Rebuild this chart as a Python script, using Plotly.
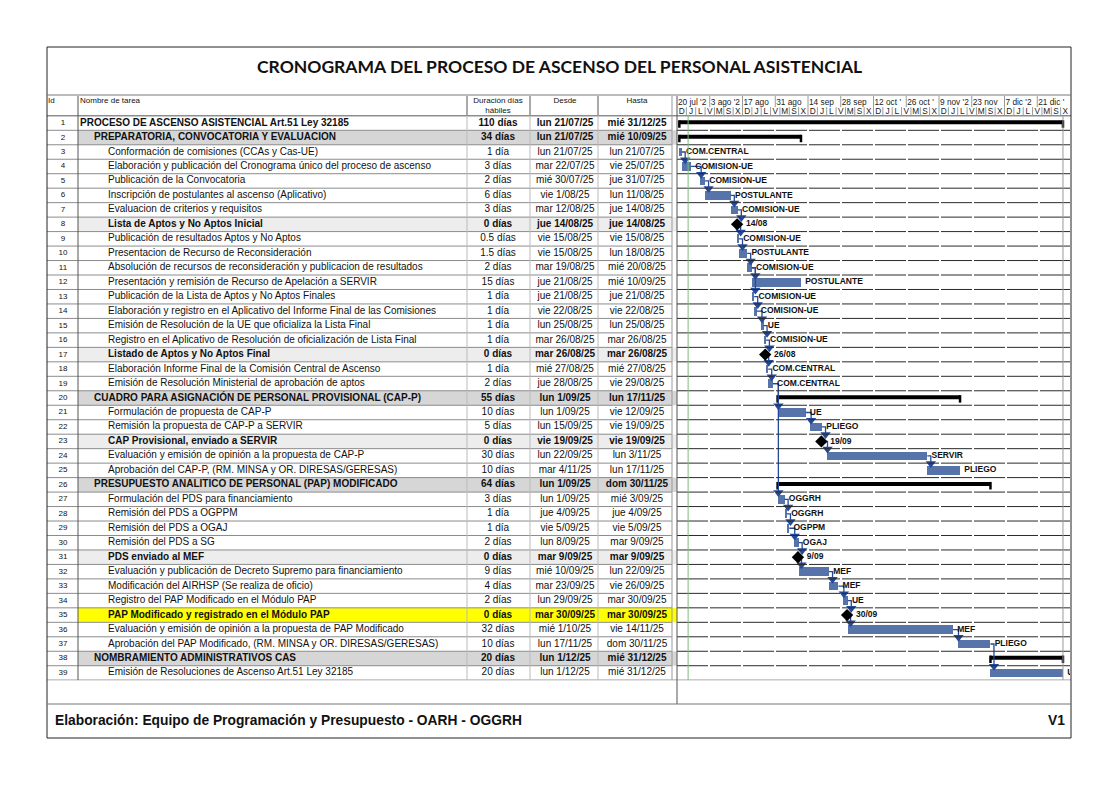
import plotly.graph_objects as go
import pandas as pd

# ---------------- DATA ----------------
TITLE = "CRONOGRAMA DEL PROCESO DE ASCENSO DEL PERSONAL ASISTENCIAL"
FOOTER = "Elaboración: Equipo de Programación y Presupuesto - OARH - OGGRH"
VERSION = "V1"

HEADER_ID = "Id"
HEADER_NAME = "Nombre de tarea"
HEADER_DUR = ["Duración días", "hábiles"]
HEADER_DESDE = "Desde"
HEADER_HASTA = "Hasta"

ROW_IDS = list(range(1, 40))

TASK_NAMES = [
    "PROCESO DE ASCENSO ASISTENCIAL Art.51 Ley 32185",
    "PREPARATORIA, CONVOCATORIA Y EVALUACION",
    "Conformación de comisiones (CCAs y Cas-UE)",
    "Elaboración y publicación del Cronograma único del proceso de ascenso",
    "Publicación de la Convocatoria",
    "Inscripción de postulantes al ascenso (Aplicativo)",
    "Evaluacion de criterios y requisitos",
    "Lista de Aptos y No Aptos Inicial",
    "Publicación de resultados Aptos y No Aptos",
    "Presentacion de Recurso de Reconsideración",
    "Absolución de recursos de reconsideración y publicacion de resultados",
    "Presentación y remisión de Recurso de Apelación a SERVIR",
    "Publicación de la Lista de Aptos y No Aptos Finales",
    "Elaboración y registro en el Aplicativo del Informe Final de las Comisiones",
    "Emisión de Resolución de la UE que oficializa la Lista Final",
    "Registro en el Aplicativo de Resolución de oficialización de Lista Final",
    "Listado de Aptos y No Aptos Final",
    "Elaboración Informe Final de la Comisión Central de Ascenso",
    "Emisión de Resolución Ministerial de aprobación de aptos",
    "CUADRO PARA ASIGNACIÓN DE PERSONAL PROVISIONAL (CAP-P)",
    "Formulación de propuesta de CAP-P",
    "Remisión la propuesta de CAP-P a SERVIR",
    "CAP Provisional, enviado a SERVIR",
    "Evaluación y emisión de opinión a la propuesta de CAP-P",
    "Aprobación del CAP-P, (RM. MINSA y OR. DIRESAS/GERESAS)",
    "PRESUPUESTO ANALITICO DE PERSONAL (PAP) MODIFICADO",
    "Formulación del PDS para financiamiento",
    "Remisión del PDS a OGPPM",
    "Remisión del PDS a OGAJ",
    "Remisión del PDS a SG",
    "PDS enviado al MEF",
    "Evaluación y publicación de Decreto Supremo para financiamiento",
    "Modificación del AIRHSP (Se realiza de oficio)",
    "Registro del PAP Modificado en el Módulo PAP",
    "PAP Modificado y registrado en el Módulo PAP",
    "Evaluación y emisión de opinión a la propuesta de PAP Modificado",
    "Aprobación del PAP Modificado, (RM. MINSA y OR. DIRESAS/GERESAS)",
    "NOMBRAMIENTO ADMINISTRATIVOS CAS",
    "Emisión de Resoluciones de Ascenso Art.51 Ley 32185",
]

OUTLINE = [0, 1, 2, 2, 2, 2, 2, 2, 2, 2, 2, 2, 2, 2, 2, 2, 2, 2, 2,
           1, 2, 2, 2, 2, 2,
           1, 2, 2, 2, 2, 2, 2, 2, 2, 2, 2, 2,
           1, 2]

# S = summary, T = task, M = milestone
ROW_KIND = ["S", "S", "T", "T", "T", "T", "T", "M", "T", "T", "T", "T", "T", "T", "T", "T", "M", "T", "T",
            "S", "T", "T", "M", "T", "T",
            "S", "T", "T", "T", "T", "M", "T", "T", "T", "M", "T", "T",
            "S", "T"]

DURATION_LABELS = [
    "110 días", "34 días", "1 día", "3 días", "2 días", "6 días", "3 días", "0 días", "0.5 días", "1.5 días",
    "2 días", "15 días", "1 día", "1 día", "1 día", "1 día", "0 días", "1 día", "2 días", "55 días",
    "10 días", "5 días", "0 días", "30 días", "10 días", "64 días", "3 días", "1 día", "1 día", "2 días",
    "0 días", "9 días", "4 días", "2 días", "0 días", "32 días", "10 días", "20 días", "20 días",
]

DESDE_LABELS = [
    "lun 21/07/25", "lun 21/07/25", "lun 21/07/25", "mar 22/07/25", "mié 30/07/25", "vie 1/08/25",
    "mar 12/08/25", "jue 14/08/25", "vie 15/08/25", "vie 15/08/25", "mar 19/08/25", "jue 21/08/25",
    "jue 21/08/25", "vie 22/08/25", "lun 25/08/25", "mar 26/08/25", "mar 26/08/25", "mié 27/08/25",
    "jue 28/08/25", "lun 1/09/25", "lun 1/09/25", "lun 15/09/25", "vie 19/09/25", "lun 22/09/25",
    "mar 4/11/25", "lun 1/09/25", "lun 1/09/25", "jue 4/09/25", "vie 5/09/25", "lun 8/09/25",
    "mar 9/09/25", "mié 10/09/25", "mar 23/09/25", "lun 29/09/25", "mar 30/09/25", "mié 1/10/25",
    "lun 17/11/25", "lun 1/12/25", "lun 1/12/25",
]

HASTA_LABELS = [
    "mié 31/12/25", "mié 10/09/25", "lun 21/07/25", "vie 25/07/25", "jue 31/07/25", "lun 11/08/25",
    "jue 14/08/25", "jue 14/08/25", "vie 15/08/25", "lun 18/08/25", "mié 20/08/25", "mié 10/09/25",
    "jue 21/08/25", "vie 22/08/25", "lun 25/08/25", "mar 26/08/25", "mar 26/08/25", "mié 27/08/25",
    "vie 29/08/25", "lun 17/11/25", "vie 12/09/25", "vie 19/09/25", "vie 19/09/25", "lun 3/11/25",
    "lun 17/11/25", "dom 30/11/25", "mié 3/09/25", "jue 4/09/25", "vie 5/09/25", "mar 9/09/25",
    "mar 9/09/25", "lun 22/09/25", "vie 26/09/25", "mar 30/09/25", "mar 30/09/25", "vie 14/11/25",
    "dom 30/11/25", "mié 31/12/25", "mié 31/12/25",
]

# Bar start / end (end exclusive); milestones use the same instant for both
BAR_START = [
    "2025-07-21 00:00", "2025-07-21 00:00", "2025-07-21 00:00", "2025-07-22 00:00", "2025-07-30 00:00",
    "2025-08-01 00:00", "2025-08-12 00:00", "2025-08-14 17:00", "2025-08-15 00:00", "2025-08-15 12:00",
    "2025-08-19 00:00", "2025-08-21 00:00", "2025-08-21 00:00", "2025-08-22 00:00", "2025-08-25 00:00",
    "2025-08-26 00:00", "2025-08-26 17:00", "2025-08-27 00:00", "2025-08-28 00:00", "2025-09-01 00:00",
    "2025-09-01 00:00", "2025-09-15 00:00", "2025-09-19 17:00", "2025-09-22 00:00", "2025-11-04 00:00",
    "2025-09-01 00:00", "2025-09-01 00:00", "2025-09-04 00:00", "2025-09-05 00:00", "2025-09-08 00:00",
    "2025-09-09 17:00", "2025-09-10 00:00", "2025-09-23 00:00", "2025-09-29 00:00", "2025-09-30 17:00",
    "2025-10-01 00:00", "2025-11-17 00:00", "2025-12-01 00:00", "2025-12-01 00:00",
]
BAR_END = [
    "2026-01-01 00:00", "2025-09-11 00:00", "2025-07-22 00:00", "2025-07-26 00:00", "2025-08-01 00:00",
    "2025-08-12 00:00", "2025-08-15 00:00", "2025-08-14 17:00", "2025-08-15 12:00", "2025-08-19 00:00",
    "2025-08-21 00:00", "2025-09-11 00:00", "2025-08-22 00:00", "2025-08-23 00:00", "2025-08-26 00:00",
    "2025-08-27 00:00", "2025-08-26 17:00", "2025-08-28 00:00", "2025-08-30 00:00", "2025-11-18 00:00",
    "2025-09-13 00:00", "2025-09-20 00:00", "2025-09-19 17:00", "2025-11-04 00:00", "2025-11-18 00:00",
    "2025-12-01 00:00", "2025-09-04 00:00", "2025-09-05 00:00", "2025-09-06 00:00", "2025-09-10 00:00",
    "2025-09-09 17:00", "2025-09-23 00:00", "2025-09-27 00:00", "2025-10-01 00:00", "2025-09-30 17:00",
    "2025-11-15 00:00", "2025-12-01 00:00", "2026-01-01 00:00", "2026-01-01 00:00",
]

RESOURCE_LABELS = [
    "", "", "COM.CENTRAL", "COMISION-UE", "COMISION-UE", "POSTULANTE", "COMISION-UE", "14/08",
    "COMISION-UE", "POSTULANTE", "COMISION-UE", "POSTULANTE", "COMISION-UE", "COMISION-UE", "UE",
    "COMISION-UE", "26/08", "COM.CENTRAL", "COM.CENTRAL", "", "UE", "PLIEGO", "19/09", "SERVIR",
    "PLIEGO", "", "OGGRH", "OGGRH", "OGPPM", "OGAJ", "9/09", "MEF", "MEF", "UE", "30/09", "MEF",
    "PLIEGO", "", "UE",
]

HIGHLIGHT_ROWS = [35]

DEPENDENCIES = [(3, 4), (4, 5), (5, 6), (6, 7), (7, 8), (8, 9), (9, 10), (10, 11), (11, 12), (11, 13),
                (13, 14), (14, 15), (15, 16), (16, 17), (17, 18), (18, 19), (19, 21), (19, 27),
                (21, 22), (22, 23), (23, 24), (24, 25), (27, 28), (28, 29), (29, 30), (30, 31),
                (31, 32), (32, 33), (33, 34), (34, 35), (35, 36), (36, 37), (37, 39)]

TIMELINE_START = "2025-07-20"
TIMELINE_END = "2026-01-04"
TOP_TIER_LABELS = ["20 jul '2", "3 ago '2", "17 ago", "31 ago", "14 sep", "28 sep",
                   "12 oct '", "26 oct '", "9 nov '2", "23 nov", "7 dic '2", "21 dic '"]
TOP_TIER_STARTS = ["2025-07-20", "2025-08-03", "2025-08-17", "2025-08-31", "2025-09-14", "2025-09-28",
                   "2025-10-12", "2025-10-26", "2025-11-09", "2025-11-23", "2025-12-07", "2025-12-21"]
BOTTOM_TIER_LABELS = list("DJLVMSX") * 6
STATUS_DATE = "2025-07-24 18:00"
PROJECT_FINISH = "2026-01-01"

# ---------------- LAYOUT HELPERS ----------------
W, H = 1100, 770
OFF = 8


def pxx(X):
    return (X - OFF) / W


def pxy(Y):
    return 1 - (Y - OFF) / H


FRAME_L, FRAME_R, FRAME_T, FRAME_B = 47, 1071, 47, 738
TITLE_LINE = 95
FOOT_LINE = 704
COL_ID = 78
COL_NAME_END = 467
COL_DUR_END = 530
COL_DESDE_END = 598
COL_HASTA_END = 672
GANTT_L = 677
GANTT_R = 1070
Y_TOP = -0.87

FONT = "Liberation Sans, Arial, sans-serif"
BAR_COLOR = "#5674AA"
LINK_COLOR = "#24499A"

fig = go.Figure()

n = len(ROW_IDS)
is_bold = [k in ("S", "M") or (r in HIGHLIGHT_ROWS) for r, k in zip(ROW_IDS, ROW_KIND)]


def bold(s, flag):
    return f"<b>{s}</b>" if flag else s


# ---- row backgrounds
for r, kind, lvl in zip(ROW_IDS, ROW_KIND, OUTLINE):
    color = None
    if r in HIGHLIGHT_ROWS:
        color = "#FFFF00"
    elif kind == "S" and lvl > 0:
        color = "#D6D6D6"
    elif kind == "M":
        color = "#EDEDED"
    if color:
        fig.add_shape(type="rect", xref="x2", yref="y", x0=COL_ID, x1=GANTT_L, y0=r - 0.5, y1=r + 0.5,
                      fillcolor=color, line_width=0, layer="below")

# ---- table lines
LINE_GRAY = "#8C8C8C"
for r in range(1, n):
    fig.add_shape(type="line", xref="x2", yref="y", x0=FRAME_L, x1=COL_HASTA_END, y0=r + 0.5, y1=r + 0.5,
                  line=dict(color=LINE_GRAY, width=1))
    fig.add_shape(type="line", xref="x domain", yref="y", x0=0, x1=1, y0=r + 0.5, y1=r + 0.5,
                  line=dict(color="#2A2A2A", width=1, dash="31px,2px"))
for yy in (0.5, n + 0.5):
    fig.add_shape(type="line", xref="paper", yref="y", x0=pxx(FRAME_L), x1=pxx(FRAME_R), y0=yy, y1=yy,
                  line=dict(color="#555555", width=1))

for X, col in [(COL_ID, "#555555"), (COL_NAME_END, "#BBBBBB"), (COL_DUR_END, "#BBBBBB"),
               (COL_DESDE_END, "#BBBBBB"), (COL_HASTA_END, "#999999")]:
    fig.add_shape(type="line", xref="x2", yref="y", x0=X, x1=X, y0=Y_TOP, y1=n + 0.5,
                  line=dict(color=col, width=1))
fig.add_shape(type="line", xref="paper", yref="paper", x0=pxx(GANTT_L), x1=pxx(GANTT_L),
              y0=pxy(FOOT_LINE), y1=pxy(96), line=dict(color="#555555", width=1))
for X in (COL_NAME_END, COL_DUR_END, COL_DESDE_END):
    fig.add_shape(type="line", xref="x2", yref="y", x0=X, x1=X, y0=Y_TOP, y1=0.5,
                  line=dict(color="#777777", width=1))

# frame, title line, footer line
fig.add_shape(type="rect", xref="paper", yref="paper", x0=pxx(FRAME_L), x1=pxx(FRAME_R),
              y0=pxy(FRAME_B), y1=pxy(FRAME_T), line=dict(color="#222222", width=1))
fig.add_shape(type="line", xref="paper", yref="paper", x0=pxx(FRAME_L), x1=pxx(FRAME_R),
              y0=pxy(TITLE_LINE), y1=pxy(TITLE_LINE), line=dict(color="#777777", width=1))
fig.add_shape(type="line", xref="paper", yref="paper", x0=pxx(FRAME_L), x1=pxx(FRAME_R),
              y0=pxy(FOOT_LINE), y1=pxy(FOOT_LINE), line=dict(color="#777777", width=1))

# timescale separators
top_dates = pd.to_datetime(TOP_TIER_STARTS, format="%Y-%m-%d")
bottom_dates = pd.date_range(TIMELINE_START, periods=len(BOTTOM_TIER_LABELS), freq="4D")
for d in top_dates[1:]:
    fig.add_shape(type="line", xref="x", yref="y", x0=d, x1=d, y0=Y_TOP, y1=-0.1,
                  line=dict(color="#9A9A9A", width=1))
for d in bottom_dates[1:]:
    fig.add_shape(type="line", xref="x", yref="y", x0=d, x1=d, y0=-0.1, y1=0.5,
                  line=dict(color="#9A9A9A", width=1))

# status date & project finish lines
fig.add_shape(type="line", xref="x", yref="y", x0=STATUS_DATE, x1=STATUS_DATE, y0=0.5, y1=n + 0.5,
              line=dict(color="#7DBE7D", width=1))
fig.add_shape(type="line", xref="x", yref="y", x0=PROJECT_FINISH, x1=PROJECT_FINISH, y0=0.5, y1=n + 0.5,
              line=dict(color="#9A9A9A", width=1))

# ---- table header text
hdr_font = dict(family=FONT, size=8, color="#111111")
fig.add_trace(go.Scatter(x=[48, 80], y=[-0.55, -0.55], text=[HEADER_ID, HEADER_NAME], mode="text",
                         textposition="middle right", textfont=hdr_font, xaxis="x2", yaxis="y",
                         hoverinfo="skip", cliponaxis=False))
fig.add_trace(go.Scatter(x=[498, 498, 565, 637], y=[-0.55, 0.15, -0.55, -0.55],
                         text=[HEADER_DUR[0], HEADER_DUR[1], HEADER_DESDE, HEADER_HASTA], mode="text",
                         textposition="middle center", textfont=hdr_font, xaxis="x2", yaxis="y",
                         hoverinfo="skip", cliponaxis=False))

# ---- table body text
fig.add_trace(go.Scatter(x=[63] * n, y=ROW_IDS, text=[str(i) for i in ROW_IDS], mode="text",
                         textposition="middle center", textfont=dict(family=FONT, size=8, color="#111"),
                         xaxis="x2", yaxis="y", hoverinfo="skip", cliponaxis=False))
fig.add_trace(go.Scatter(x=[80 + 14 * lvl for lvl in OUTLINE], y=ROW_IDS,
                         text=[bold(t, f) for t, f in zip(TASK_NAMES, is_bold)], mode="text",
                         textposition="middle right", textfont=dict(family=FONT, size=10, color="#111"),
                         xaxis="x2", yaxis="y", hoverinfo="skip", cliponaxis=False))
for xc, labels in [(498, DURATION_LABELS), (565, DESDE_LABELS), (637, HASTA_LABELS)]:
    fig.add_trace(go.Scatter(x=[xc] * n, y=ROW_IDS, text=[bold(t, f) for t, f in zip(labels, is_bold)],
                             mode="text", textposition="middle center",
                             textfont=dict(family=FONT, size=10, color="#111"),
                             xaxis="x2", yaxis="y", hoverinfo="skip", cliponaxis=False))

# ---- timescale text
fig.add_trace(go.Scatter(x=list(top_dates + pd.Timedelta(hours=10)), y=[-0.42] * len(top_dates),
                         text=TOP_TIER_LABELS, mode="text", textposition="middle right",
                         textfont=dict(family=FONT, size=8.3, color="#222"), xaxis="x", yaxis="y",
                         hoverinfo="skip", cliponaxis=True))
fig.add_trace(go.Scatter(x=list(bottom_dates + pd.Timedelta(days=2)), y=[0.22] * len(bottom_dates),
                         text=BOTTOM_TIER_LABELS, mode="text", textposition="middle center",
                         textfont=dict(family=FONT, size=8.3, color="#222"), xaxis="x", yaxis="y",
                         hoverinfo="skip", cliponaxis=True))

# ---- gantt bars
starts = list(pd.to_datetime(BAR_START, format="%Y-%m-%d %H:%M"))
ends = list(pd.to_datetime(BAR_END, format="%Y-%m-%d %H:%M"))
task_idx = [i for i, k in enumerate(ROW_KIND) if k == "T"]
fig.add_trace(go.Bar(orientation="h", y=[ROW_IDS[i] for i in task_idx],
                     base=[starts[i] for i in task_idx],
                     x=[(ends[i] - starts[i]).total_seconds() * 1000 for i in task_idx],
                     width=0.6, marker=dict(color=BAR_COLOR, line=dict(width=0)),
                     xaxis="x", yaxis="y", hoverinfo="skip"))

# summary bars
sx, sy, cx, cy = [], [], [], []
for i, k in enumerate(ROW_KIND):
    if k == "S":
        r = ROW_IDS[i]
        sx += [starts[i], ends[i], None]
        sy += [r - 0.05, r - 0.05, None]
        for d in (starts[i], ends[i]):
            cx += [d, d, None]
            cy += [r - 0.2, r + 0.32, None]
fig.add_trace(go.Scatter(x=sx, y=sy, mode="lines", line=dict(color="black", width=4),
                         xaxis="x", yaxis="y", hoverinfo="skip"))
fig.add_trace(go.Scatter(x=cx, y=cy, mode="lines", line=dict(color="black", width=2.5),
                         xaxis="x", yaxis="y", hoverinfo="skip"))

# dependency connectors
lx, ly, ax, ay = [], [], [], []
for p, s in DEPENDENCIES:
    pe = ends[p - 1]
    ss = starts[s - 1]
    vx = max(pe + pd.Timedelta(hours=36), ss + pd.Timedelta(hours=8))
    lx += [pe, vx, vx, None]
    ly += [p, p, s - 0.5, None]
    ax.append(vx)
    ay.append(s - 0.47)
fig.add_trace(go.Scatter(x=lx, y=ly, mode="lines", line=dict(color=LINK_COLOR, width=1.3),
                         xaxis="x", yaxis="y", hoverinfo="skip"))
fig.add_trace(go.Scatter(x=ax, y=ay, mode="markers",
                         marker=dict(symbol="triangle-down", size=9, color=LINK_COLOR, line=dict(width=0)),
                         xaxis="x", yaxis="y", hoverinfo="skip"))

# milestones
m_idx = [i for i, k in enumerate(ROW_KIND) if k == "M"]
fig.add_trace(go.Scatter(x=[starts[i] for i in m_idx], y=[ROW_IDS[i] for i in m_idx], mode="markers",
                         marker=dict(symbol="diamond", size=9.5, color="black", line=dict(width=0)),
                         xaxis="x", yaxis="y", hoverinfo="skip"))

# resource / date labels
lab_x, lab_y, lab_t = [], [], []
for i, t in enumerate(RESOURCE_LABELS):
    if not t:
        continue
    if ROW_KIND[i] == "M":
        lab_x.append(ends[i] + pd.Timedelta(days=3.8))
    else:
        lab_x.append(ends[i] + pd.Timedelta(days=1.8))
    lab_y.append(ROW_IDS[i])
    lab_t.append(f"<b>{t}</b>")
fig.add_trace(go.Scatter(x=lab_x, y=lab_y, text=lab_t, mode="text", textposition="middle right",
                         textfont=dict(family=FONT, size=8.5, color="#111"), xaxis="x", yaxis="y",
                         hoverinfo="skip", cliponaxis=True))

# ---- title & footer
fig.add_annotation(xref="paper", yref="paper", x=pxx(559), y=pxy(66), text=f"<b>{TITLE}</b>",
                   showarrow=False, font=dict(family="Lato, Open Sans, sans-serif", size=17.5, color="#111"),
                   xanchor="center", yanchor="middle")
fig.add_annotation(xref="paper", yref="paper", x=pxx(53), y=pxy(720), text=f"<b>{FOOTER}</b>",
                   showarrow=False, font=dict(family=FONT, size=13.8, color="#111"),
                   xanchor="left", yanchor="middle")
fig.add_annotation(xref="paper", yref="paper", x=pxx(1067), y=pxy(720), text=f"<b>{VERSION}</b>",
                   showarrow=False, font=dict(family=FONT, size=13.8, color="#111"),
                   xanchor="right", yanchor="middle")

fig.update_layout(
    width=W, height=H, autosize=False,
    margin=dict(l=0, r=0, t=0, b=0, pad=0),
    paper_bgcolor="white", plot_bgcolor="rgba(0,0,0,0)",
    showlegend=False, bargap=0,
    xaxis=dict(type="date", domain=[pxx(GANTT_L), pxx(GANTT_R)], range=[TIMELINE_START, TIMELINE_END],
               visible=False, anchor="y", fixedrange=True),
    xaxis2=dict(domain=[pxx(FRAME_L), pxx(GANTT_L)], range=[FRAME_L, GANTT_L], visible=False,
                anchor="y", fixedrange=True),
    yaxis=dict(domain=[pxy(680.2), pxy(96)], range=[n + 0.5, Y_TOP], visible=False, fixedrange=True),
)

fig.write_html("out.html")
